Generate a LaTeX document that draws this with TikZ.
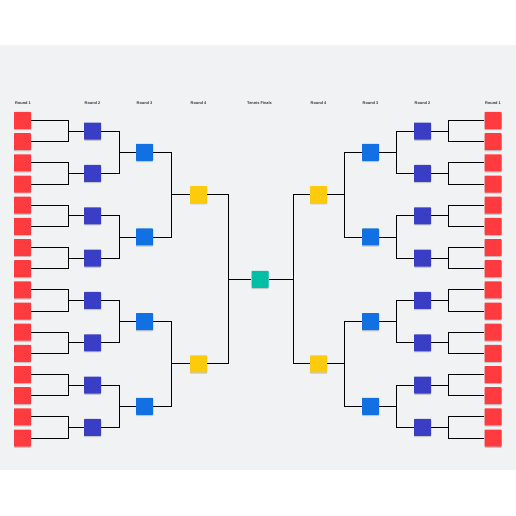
\documentclass[tikz,border=0pt]{standalone}
\usepackage{fontspec}
\setmainfont{Liberation Sans}
\usetikzlibrary{shadows}

\definecolor{bggray}{HTML}{F1F2F4}
\definecolor{roundred}{HTML}{FF3B3F}
\definecolor{roundindigo}{HTML}{3A3EC6}
\definecolor{roundblue}{HTML}{1170E2}
\definecolor{roundyellow}{HTML}{FDCB0C}
\definecolor{finalteal}{HTML}{00BFA5}

\tikzset{
  team/.style={minimum size=17pt, inner sep=0pt, rounded corners=0.6pt,
    drop shadow={shadow xshift=0pt, shadow yshift=-1.2pt, opacity=0.18, fill=black}},
  lbl/.style={font=\fontsize{3.9}{4}\selectfont\bfseries, text=black!80, inner sep=0pt},
  link/.style={line width=0.9pt},
}

\begin{document}
\begin{tikzpicture}[x=1pt,y=-1pt]
\fill[white] (0,0) rectangle (516,516);
\useasboundingbox (0,0) rectangle (516,516);
\fill[bggray] (0,45) rectangle (516,470);

% round labels
\node[lbl] (lbl-l1) at (23,103) {Round 1};
\node[lbl] (lbl-l2) at (92.5,103) {Round 2};
\node[lbl] (lbl-l3) at (144.5,103) {Round 3};
\node[lbl] (lbl-l4) at (198.5,103) {Round 4};
\node[lbl] (lbl-fin) at (259.5,103) {Tennis Finals};
\node[lbl] (lbl-r4) at (318.5,103) {Round 4};
\node[lbl] (lbl-r3) at (370.5,103) {Round 3};
\node[lbl] (lbl-r2) at (422.5,103) {Round 2};
\node[lbl] (lbl-r1) at (493,103) {Round 1};

% round 1
\foreach \i in {0,...,15} {
  \node[team,fill=roundred] (l1-\i) at (22.5,{120.5+21.17*\i}) {};
  \node[team,fill=roundred] (r1-\i) at (493,{120.5+21.17*\i}) {};
}
% round 2
\foreach \i in {0,...,7} {
  \node[team,fill=roundindigo] (l2-\i) at (92.5,{131.1+42.33*\i}) {};
  \node[team,fill=roundindigo] (r2-\i) at (422.5,{131.1+42.33*\i}) {};
}
% round 3
\foreach \i in {0,...,3} {
  \node[team,fill=roundblue] (l3-\i) at (144.5,{152.3+84.67*\i}) {};
  \node[team,fill=roundblue] (r3-\i) at (370.5,{152.3+84.67*\i}) {};
}
% round 4
\foreach \i in {0,1} {
  \node[team,fill=roundyellow] (l4-\i) at (198.5,{194.6+169.33*\i}) {};
  \node[team,fill=roundyellow] (r4-\i) at (318.5,{194.6+169.33*\i}) {};
}
% final
\node[team,fill=finalteal] (final) at (260,279.3) {};

% brackets
\foreach \i in {0,...,15} {
  \pgfmathtruncatemacro\p{\i/2}
  \draw[link] (l1-\i.east) -- ++(37.3,0) |- (l2-\p.west);
  \draw[link] (r1-\i.west) -- ++(-36.2,0) |- (r2-\p.east);
}
\foreach \i in {0,...,7} {
  \pgfmathtruncatemacro\p{\i/2}
  \draw[link] (l2-\i.east) -- ++(18.3,0) |- (l3-\p.west);
  \draw[link] (r2-\i.west) -- ++(-17.3,0) |- (r3-\p.east);
}
\foreach \i in {0,...,3} {
  \pgfmathtruncatemacro\p{\i/2}
  \draw[link] (l3-\i.east) -- ++(18.3,0) |- (l4-\p.west);
  \draw[link] (r3-\i.west) -- ++(-17,0) |- (r4-\p.east);
}
\foreach \i in {0,1} {
  \draw[link] (l4-\i.east) -- ++(21.3,0) |- (final.west);
  \draw[link] (r4-\i.west) -- ++(-16.7,0) |- (final.east);
}
\end{tikzpicture}
\end{document}
